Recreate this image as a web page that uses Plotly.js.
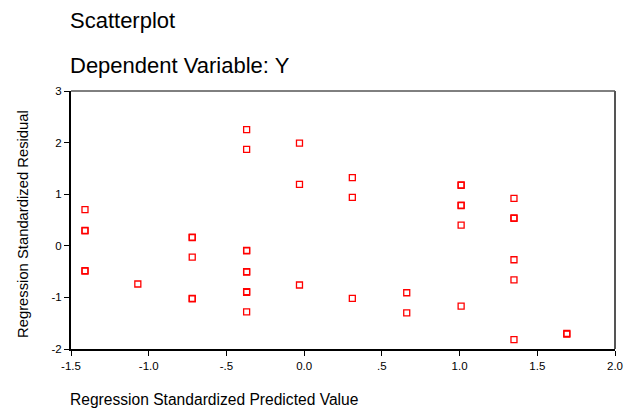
<!DOCTYPE html>
<html>
<head>
<meta charset="utf-8">
<script src="https://cdn.plot.ly/plotly-3.0.1.min.js"></script>
<style>html,body{margin:0;padding:0;background:#fff}#chart{width:627px;height:408px}</style>
</head>
<body>
<div id="chart"></div>
<script>
// Regression standardized predicted values (x) and residuals (y)
var predicted = [-1.41, -1.41, -1.41, -1.41, -1.41,
  -1.07,
  -0.72, -0.72, -0.72, -0.72, -0.72,
  -0.37, -0.37, -0.37, -0.37, -0.37, -0.37, -0.37, -0.37, -0.37,
  -0.03, -0.03, -0.03,
  0.31, 0.31, 0.31,
  0.66, 0.66,
  1.01, 1.01, 1.01, 1.01, 1.01, 1.01,
  1.35, 1.35, 1.35, 1.35, 1.35, 1.35,
  1.69, 1.69];
var residual = [0.70, 0.30, 0.29, -0.49, -0.48,
  -0.74,
  0.17, 0.16, -0.22, -1.02, -1.03,
  2.25, 1.87, -0.09, -0.10, -0.50, -0.51, -0.89, -0.90, -1.28,
  1.99, 1.19, -0.76,
  1.32, 0.94, -1.02,
  -0.91, -1.30,
  1.18, 1.17, 0.79, 0.78, 0.40, -1.17,
  0.92, 0.54, 0.53, -0.27, -0.66, -1.82,
  -1.70, -1.71];
var xTickVals = [-1.5, -1.0, -0.5, 0.0, 0.5, 1.0, 1.5, 2.0];
var xTickText = ['-1.5', '-1.0', '-.5', '0.0', '.5', '1.0', '1.5', '2.0'];
var yTickVals = [-2, -1, 0, 1, 2, 3];
var yTickText = ['-2', '-1', '0', '1', '2', '3'];
var titleText = 'Scatterplot';
var subtitleText = 'Dependent Variable: Y';
var xTitle = 'Regression Standardized Predicted Value';
var yTitle = 'Regression Standardized Residual';

var font = 'Liberation Sans, Arial, sans-serif';
var trace = {
  type: 'scatter', mode: 'markers', x: predicted, y: residual,
  marker: {symbol: 'square-open', size: 6, color: '#ff0000', line: {width: 1.3, color: '#ff0000'}},
  hoverinfo: 'x+y'
};
var layout = {
  width: 627, height: 408,
  margin: {l: 71, r: 12, t: 91, b: 59},
  paper_bgcolor: '#ffffff', plot_bgcolor: '#ffffff',
  showlegend: false,
  font: {family: font, color: '#000000'},
  xaxis: {
    range: [-1.5, 2.0], tickvals: xTickVals, ticktext: xTickText,
    showgrid: false, zeroline: false, showline: true, linecolor: '#000', linewidth: 2,
    ticks: 'outside', ticklen: 5, tickwidth: 1, tickcolor: '#000',
    tickfont: {size: 11.5, family: font, color: '#000'}
  },
  yaxis: {
    range: [-2, 3], tickvals: yTickVals, ticktext: yTickText,
    showgrid: false, zeroline: false, showline: true, linecolor: '#000', linewidth: 2,
    ticks: 'outside', ticklen: 5, tickwidth: 1, tickcolor: '#000',
    tickfont: {size: 11.5, family: font, color: '#000'}
  },
  shapes: [
    {type: 'line', xref: 'paper', yref: 'paper', x0: 0, x1: 1, y0: 1, y1: 1, line: {color: '#000', width: 1}},
    {type: 'line', xref: 'paper', yref: 'paper', x0: 1, x1: 1, y0: 0, y1: 1, line: {color: '#555', width: 2}}
  ],
  annotations: [
    {text: titleText, xref: 'paper', yref: 'paper', x: 0, y: 1, xanchor: 'left', yanchor: 'middle',
     xshift: -3, yshift: 71, showarrow: false, font: {size: 22, family: font, color: '#000'}},
    {text: subtitleText, xref: 'paper', yref: 'paper', x: 0, y: 1, xanchor: 'left', yanchor: 'middle',
     xshift: -3, yshift: 26, showarrow: false, font: {size: 22, family: font, color: '#000'}},
    {text: xTitle, xref: 'paper', yref: 'paper', x: 0, y: 0, xanchor: 'left', yanchor: 'middle',
     xshift: -3, yshift: -50, showarrow: false, font: {size: 15.6, family: font, color: '#000'}},
    {text: yTitle, xref: 'paper', yref: 'paper', x: 0, y: 0.5, xanchor: 'center', yanchor: 'middle',
     xshift: -48, yshift: -4, textangle: -90, showarrow: false, font: {size: 14.8, family: font, color: '#000'}}
  ]
};
Plotly.newPlot('chart', [trace], layout, {displayModeBar: false, staticPlot: true});
</script>
</body>
</html>
